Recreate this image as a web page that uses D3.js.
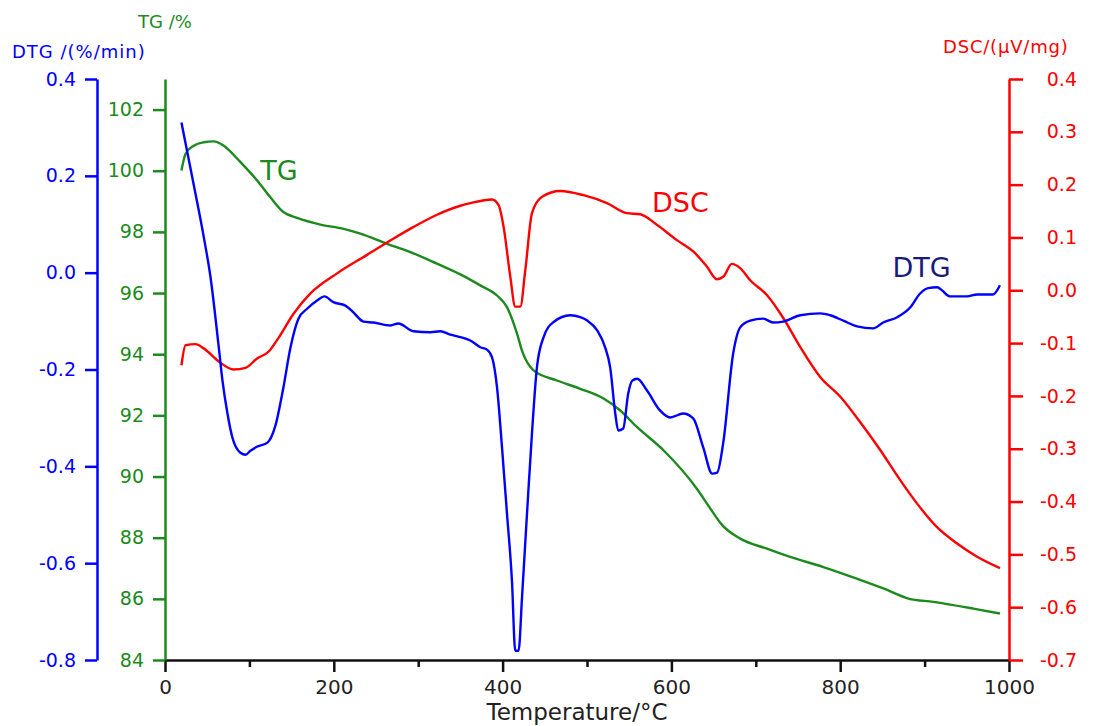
<!DOCTYPE html>
<html>
<head>
<meta charset="utf-8">
<script src="https://cdn.jsdelivr.net/npm/d3@7"></script>
<style>
  body { margin: 0; background: #fff; }
  text { font-family: "DejaVu Sans", sans-serif; }
</style>
</head>
<body>
<svg id="tga-chart" width="1098" height="726"></svg>
<script>
// values (temperature in °C)
const dtgTemp = [19.5, 34.1, 45.9, 53.9, 63.7, 68.1, 74.0, 79.9, 89.4, 95.3, 101.2, 109.5, 121.4, 130.8, 140.3, 148.6, 158.1, 168.7, 180.6, 188.9, 199.5, 213.7, 223.2, 235.1, 246.9, 267.0, 276.5, 294.3, 314.4, 326.2, 338.1, 349.9, 361.8, 373.6, 381.5, 387.5, 393.4, 399.3, 405.2, 411.1, 415.0, 418.9, 423.0, 428.9, 434.8, 440.7, 448.6, 460.4, 480.2, 492.0, 500.3, 512.1, 521.6, 527.5, 533.5, 537.0, 542.9, 548.8, 553.6, 559.5, 571.3, 586.7, 598.6, 614.0, 625.8, 637.7, 648.3, 654.2, 661.3, 673.2, 681.5, 693.4, 708.8, 720.6, 732.5, 752.6, 776.3, 788.1, 803.5, 820.1, 839.1, 850.9, 867.5, 882.9, 894.7, 904.2, 914.9, 920.8, 930.2, 950.3, 962.1, 981.1, 989.3];
const dtgValues = [0.310, 0.181, 0.074, -0.009, -0.154, -0.223, -0.291, -0.341, -0.372, -0.376, -0.368, -0.359, -0.351, -0.316, -0.237, -0.155, -0.095, -0.074, -0.057, -0.049, -0.061, -0.068, -0.082, -0.101, -0.103, -0.109, -0.105, -0.121, -0.123, -0.121, -0.128, -0.133, -0.140, -0.154, -0.159, -0.175, -0.237, -0.361, -0.498, -0.637, -0.781, -0.781, -0.671, -0.498, -0.332, -0.195, -0.133, -0.102, -0.088, -0.092, -0.099, -0.119, -0.155, -0.196, -0.291, -0.326, -0.322, -0.250, -0.223, -0.219, -0.244, -0.285, -0.299, -0.291, -0.301, -0.361, -0.415, -0.413, -0.353, -0.167, -0.113, -0.099, -0.095, -0.103, -0.101, -0.088, -0.084, -0.088, -0.099, -0.111, -0.115, -0.103, -0.092, -0.072, -0.043, -0.032, -0.030, -0.037, -0.049, -0.049, -0.045, -0.045, -0.026];

const tgTemp = [19.5, 24.3, 34.1, 45.9, 57.8, 69.6, 89.4, 109.2, 124.9, 140.7, 156.5, 184.1, 211.7, 231.5, 263.1, 290.7, 322.3, 349.9, 373.6, 393.4, 405.2, 417.1, 423.3, 436.7, 464.4, 492.0, 519.6, 539.4, 559.1, 590.6, 630.2, 645.9, 660.2, 681.5, 713.1, 740.7, 780.1, 819.7, 851.2, 880.8, 910.4, 957.7, 989.3];
const tgValues = [100.01, 100.55, 100.82, 100.93, 100.96, 100.82, 100.28, 99.68, 99.13, 98.64, 98.46, 98.24, 98.10, 97.94, 97.61, 97.34, 96.96, 96.61, 96.25, 95.92, 95.54, 94.67, 94.09, 93.47, 93.14, 92.87, 92.55, 92.16, 91.62, 90.86, 89.60, 88.96, 88.41, 87.97, 87.64, 87.37, 87.04, 86.66, 86.34, 86.01, 85.90, 85.68, 85.52];

const dscTemp = [19.5, 24.3, 36.1, 45.9, 63.7, 81.5, 95.3, 109.2, 122.9, 132.9, 152.5, 172.3, 203.9, 239.4, 270.9, 294.6, 322.3, 349.9, 361.8, 387.5, 395.3, 401.2, 409.1, 415.0, 421.0, 426.9, 434.8, 446.7, 468.3, 495.9, 523.6, 547.3, 563.1, 582.8, 606.5, 626.2, 642.0, 653.9, 661.7, 671.6, 681.5, 693.3, 713.1, 732.7, 752.5, 776.2, 799.9, 827.5, 847.2, 870.9, 890.7, 914.4, 938.1, 961.7, 989.3];
const dscValues = [-0.142, -0.104, -0.102, -0.110, -0.135, -0.150, -0.147, -0.129, -0.116, -0.094, -0.044, -0.006, 0.032, 0.067, 0.098, 0.120, 0.143, 0.160, 0.165, 0.172, 0.161, 0.120, 0.026, -0.031, -0.031, 0.038, 0.146, 0.177, 0.188, 0.180, 0.165, 0.146, 0.144, 0.124, 0.095, 0.073, 0.045, 0.021, 0.026, 0.050, 0.042, 0.019, -0.009, -0.053, -0.107, -0.164, -0.201, -0.258, -0.302, -0.359, -0.403, -0.448, -0.479, -0.504, -0.526];

const tempTicks = [0, 200, 400, 600, 800, 1000];
const tempMinorTicks = [100, 300, 500, 700, 900];
const dtgTicks = [-0.8, -0.6, -0.4, -0.2, 0.0, 0.2, 0.4];
const tgTicks = [84, 86, 88, 90, 92, 94, 96, 98, 100, 102];
const dscTicks = [-0.7, -0.6, -0.5, -0.4, -0.3, -0.2, -0.1, 0.0, 0.1, 0.2, 0.3, 0.4];

function thermogram(svg_id='#tga-chart') {
    const margin = { top: 79, right: 89, bottom: 66, left: 165 };
    const chartWidth = 1098 - margin.left - margin.right;
    const chartHeight = 726 - margin.top - margin.bottom;

    const blue = '#0000ff';
    const green = '#1c8a1c';
    const red = '#ff0000';

    // plain hyphen instead of d3's unicode minus, like the original
    const oneDecimal = d => d3.format('.1f')(d).replace('\u2212', '-');

    const svg = d3.select(svg_id)
        .append('g')
        .attr('transform', `translate(${margin.left}, ${margin.top})`);

    const xScale = d3.scaleLinear().domain([0, 1000]).range([0, chartWidth]);
    const dtgScale = d3.scaleLinear().domain([-0.8, 0.4]).range([chartHeight, 0]);
    const tgScale = d3.scaleLinear().domain([84, 103]).range([chartHeight, 0]);
    const dscScale = d3.scaleLinear().domain([-0.7, 0.4]).range([chartHeight, 0]);

    // style an axis group: coloured domain, ticks and labels
    function styleAxis(g, color, fontSize) {
        g.select('.domain').attr('stroke', color).attr('stroke-width', 2.5);
        g.selectAll('.tick line').attr('stroke', color).attr('stroke-width', 2.5);
        g.selectAll('.tick text')
            .attr('fill', color)
            .style('font-size', fontSize + 'px')
            .style('font-family', '"DejaVu Sans", sans-serif');
    }

    // Curves
    const series = [
        { temp: tgTemp, values: tgValues, scale: tgScale, color: green },
        { temp: dscTemp, values: dscValues, scale: dscScale, color: red },
        { temp: dtgTemp, values: dtgValues, scale: dtgScale, color: blue }
    ];
    for (const s of series) {
        const pts = s.temp.map((t, i) => [t, s.values[i]]);
        svg.append('path')
            .datum(pts)
            .attr('fill', 'none')
            .attr('stroke', s.color)
            .attr('stroke-width', 2.4)
            .attr('stroke-linejoin', 'round')
            .attr('d', d3.line()
                .curve(d3.curveMonotoneX)
                .x(d => xScale(d[0]))
                .y(d => s.scale(d[1])));
    }

    // X axis (minor ticks first, then major ticks with labels)
    svg.append('g')
        .attr('transform', `translate(0, ${chartHeight})`)
        .call(d3.axisBottom(xScale).tickValues(tempMinorTicks).tickSize(7).tickFormat(''))
        .call(g => g.select('.domain').remove())
        .call(g => g.selectAll('.tick line').attr('stroke', '#111').attr('stroke-width', 2.5));

    const xAxis = svg.append('g')
        .attr('transform', `translate(0, ${chartHeight})`)
        .call(d3.axisBottom(xScale).tickValues(tempTicks).tickSize(12).tickSizeOuter(0).tickPadding(8).tickFormat(d3.format('d')));
    styleAxis(xAxis, '#111', 20);
    xAxis.selectAll('.tick text').attr('fill', '#222');

    // TG axis
    const tgAxis = svg.append('g')
        .call(d3.axisLeft(tgScale).tickValues(tgTicks).tickSize(12).tickSizeOuter(0).tickPadding(9).tickFormat(d3.format('d')));
    styleAxis(tgAxis, green, 19);

    // DTG axis, offset to the left
    const dtgAxis = svg.append('g')
        .attr('transform', 'translate(-68, 0)')
        .call(d3.axisLeft(dtgScale).tickValues(dtgTicks).tickSize(12).tickSizeOuter(0).tickPadding(9).tickFormat(oneDecimal));
    styleAxis(dtgAxis, blue, 19);

    // DSC axis on the right, labels right aligned
    const dscAxis = svg.append('g')
        .attr('transform', `translate(${chartWidth}, 0)`)
        .call(d3.axisRight(dscScale).tickValues(dscTicks).tickSize(14).tickSizeOuter(0).tickFormat(oneDecimal));
    styleAxis(dscAxis, red, 19);
    dscAxis.selectAll('.tick text').attr('text-anchor', 'end').attr('x', 68);

    // Axis titles
    svg.append('text')
        .attr('x', xScale(500) - 10)
        .attr('y', chartHeight + 60)
        .style('text-anchor', 'middle')
        .style('font-size', '23px')
        .style('fill', '#222')
        .text('Temperature/°C');

    svg.append('text')
        .attr('x', 138 - margin.left)
        .attr('y', 28 - margin.top)
        .style('font-size', '18px')
        .style('fill', green)
        .text('TG /%');

    svg.append('text')
        .attr('x', 12 - margin.left)
        .attr('y', 58 - margin.top)
        .style('font-size', '18px')
        .style('letter-spacing', '1px')
        .style('fill', blue)
        .text('DTG /(%/min)');

    svg.append('text')
        .attr('x', 943 - margin.left)
        .attr('y', 53 - margin.top)
        .style('font-size', '18px')
        .style('letter-spacing', '0.8px')
        .style('fill', red)
        .text('DSC/(μV/mg)');

    // Curve labels
    svg.append('text')
        .attr('x', xScale(113))
        .attr('y', 180 - margin.top)
        .style('font-size', '27px')
        .style('fill', green)
        .text('TG');

    svg.append('text')
        .attr('x', xScale(577))
        .attr('y', 212 - margin.top)
        .style('font-size', '27px')
        .style('fill', red)
        .text('DSC');

    svg.append('text')
        .attr('x', xScale(862))
        .attr('y', 277 - margin.top)
        .style('font-size', '27px')
        .style('fill', '#1a1a7c')
        .text('DTG');
}

thermogram();
</script>
</body>
</html>
